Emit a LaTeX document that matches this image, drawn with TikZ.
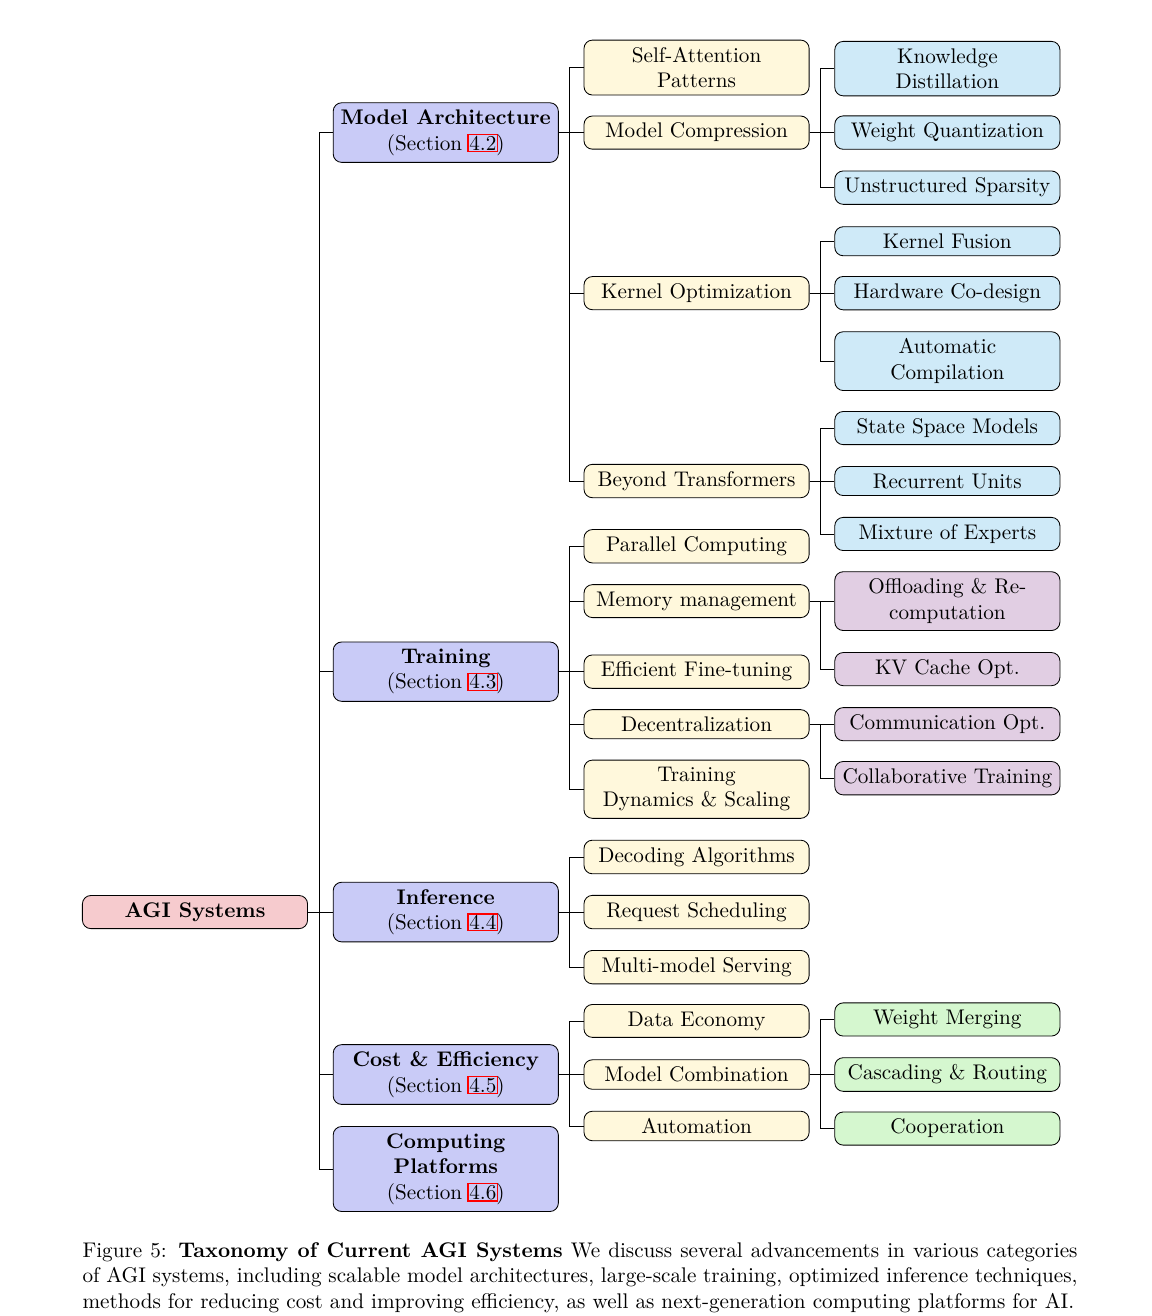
\documentclass[tikz,border=0pt]{standalone}
\usepackage{amsmath,amssymb}
\usepackage{xcolor}
\usepackage{tikz}

\definecolor{rootpink}{HTML}{F6CBCE}
\definecolor{areablue}{HTML}{C9CBF7}
\definecolor{topicyellow}{HTML}{FFF8DC}
\definecolor{leafcyan}{HTML}{CFEAF8}
\definecolor{leafviolet}{HTML}{E1CEE3}
\definecolor{leafgreen}{HTML}{D5F7CF}

% red link frame round a section number
\newcommand{\seclink}[1]{\rlap{\kern-0.9pt\textcolor{red}{\fboxsep=0.3pt\fboxrule=0.6pt\fbox{\phantom{#1}}}}#1}

\begin{document}
\begin{tikzpicture}[node distance=118.4pt,
    box/.style={rectangle, draw, rounded corners, minimum width=106.3pt, align=center},
    root/.style={box, fill=rootpink, font=\bfseries},
    area/.style={box, fill=areablue},
    topic/.style={box, fill=topicyellow},
    leaf/.style={box, fill=#1}]
    \useasboundingbox (-92.06pt,-190.7pt) rectangle (451.8pt,430.6pt);

    \node[root] (agi) {AGI Systems};

    % categories
    \node[area] (arch) [right of=agi, yshift=368pt] {\textbf{Model Architecture}\\(Section \seclink{4.2})};
    \node[area] (train) [right of=agi, yshift=113.5pt] {\textbf{Training}\\(Section \seclink{4.3})};
    \node[area] (infer) [right of=agi] {\textbf{Inference}\\(Section \seclink{4.4})};
    \node[area] (cost) [right of=agi, yshift=-76.7pt] {\textbf{Cost \& Efficiency}\\(Section \seclink{4.5})};
    \node[area] (platform) [right of=agi, yshift=-121.3pt] {\textbf{Computing}\\\textbf{Platforms}\\(Section \seclink{4.6})};

    % model architecture topics
    \node[topic] (selfattn) [right of=arch, yshift=30.7pt] {Self-Attention\\Patterns};
    \node[topic] (compress) [right of=arch] {Model Compression};
    \node[topic] (kernel) [right of=arch, yshift=-75.8pt] {Kernel Optimization};
    \node[topic] (beyond) [right of=arch, yshift=-164.5pt] {Beyond Transformers};

    % training topics
    \node[topic] (parallel) [right of=train, yshift=59.2pt] {Parallel Computing};
    \node[topic] (memory) [right of=train, yshift=33.3pt] {Memory management};
    \node[topic] (finetune) [right of=train] {Efficient Fine-tuning};
    \node[topic] (decentral) [right of=train, yshift=-24.8pt] {Decentralization};
    \node[topic] (dynamics) [right of=train, yshift=-55.5pt] {Training\\Dynamics \& Scaling};

    % inference topics
    \node[topic] (decoding) [right of=infer, yshift=26pt] {Decoding Algorithms};
    \node[topic] (sched) [right of=infer] {Request Scheduling};
    \node[topic] (multiserve) [right of=infer, yshift=-26pt] {Multi-model Serving};

    % cost topics
    \node[topic] (dataeco) [right of=cost, yshift=25.3pt] {Data Economy};
    \node[topic] (combine) [right of=cost] {Model Combination};
    \node[topic] (automation) [right of=cost, yshift=-24.3pt] {Automation};

    % leaves
    \node[leaf=leafcyan] (distill) [right of=compress, yshift=30.2pt] {Knowledge\\Distillation};
    \node[leaf=leafcyan] (quant) [right of=compress] {Weight Quantization};
    \node[leaf=leafcyan] (sparsity) [right of=compress, yshift=-26pt] {Unstructured Sparsity};
    \node[leaf=leafcyan] (fusion) [right of=kernel, yshift=24.5pt] {Kernel Fusion};
    \node[leaf=leafcyan] (codesign) [right of=kernel] {Hardware Co-design};
    \node[leaf=leafcyan] (autocomp) [right of=kernel, yshift=-32.1pt] {Automatic\\Compilation};
    \node[leaf=leafcyan] (ssm) [right of=beyond, yshift=25pt] {State Space Models};
    \node[leaf=leafcyan] (recurrent) [right of=beyond] {Recurrent Units};
    \node[leaf=leafcyan] (moe) [right of=beyond, yshift=-25pt] {Mixture of Experts};

    \node[leaf=leafviolet] (offload) [right of=memory] {Offloading \& Re-\\computation};
    \node[leaf=leafviolet] (kvcache) [right of=memory, yshift=-32.1pt] {KV Cache Opt.};
    \node[leaf=leafviolet] (commopt) [right of=decentral] {Communication Opt.};
    \node[leaf=leafviolet] (collab) [right of=decentral, yshift=-25.5pt] {Collaborative Training};

    \node[leaf=leafgreen] (merging) [right of=combine, yshift=26pt] {Weight Merging};
    \node[leaf=leafgreen] (cascade) [right of=combine] {Cascading \& Routing};
    \node[leaf=leafgreen] (cooperation) [right of=combine, yshift=-25.5pt] {Cooperation};

    % connectors
    \draw (agi.east) -- ++(5.2pt,0) |- (arch.west);
    \draw (agi.east) -- ++(5.2pt,0) |- (train.west);
    \draw (agi.east) -- ++(5.2pt,0) |- (infer.west);
    \draw (agi.east) -- ++(5.2pt,0) |- (cost.west);
    \draw (agi.east) -- ++(5.2pt,0) |- (platform.west);

    \draw (arch.east) -- ++(5.2pt,0) |- (selfattn.west);
    \draw (arch.east) -- ++(5.2pt,0) |- (compress.west);
    \draw (arch.east) -- ++(5.2pt,0) |- (kernel.west);
    \draw (arch.east) -- ++(5.2pt,0) |- (beyond.west);

    \draw (train.east) -- ++(5.2pt,0) |- (parallel.west);
    \draw (train.east) -- ++(5.2pt,0) |- (memory.west);
    \draw (train.east) -- ++(5.2pt,0) |- (finetune.west);
    \draw (train.east) -- ++(5.2pt,0) |- (decentral.west);
    \draw (train.east) -- ++(5.2pt,0) |- (dynamics.west);

    \draw (infer.east) -- ++(5.2pt,0) |- (decoding.west);
    \draw (infer.east) -- ++(5.2pt,0) |- (sched.west);
    \draw (infer.east) -- ++(5.2pt,0) |- (multiserve.west);

    \draw (cost.east) -- ++(5.2pt,0) |- (dataeco.west);
    \draw (cost.east) -- ++(5.2pt,0) |- (combine.west);
    \draw (cost.east) -- ++(5.2pt,0) |- (automation.west);

    \draw (compress.east) -- ++(5.2pt,0) |- (distill.west);
    \draw (compress.east) -- ++(5.2pt,0) |- (quant.west);
    \draw (compress.east) -- ++(5.2pt,0) |- (sparsity.west);
    \draw (kernel.east) -- ++(5.2pt,0) |- (fusion.west);
    \draw (kernel.east) -- ++(5.2pt,0) |- (codesign.west);
    \draw (kernel.east) -- ++(5.2pt,0) |- (autocomp.west);
    \draw (beyond.east) -- ++(5.2pt,0) |- (ssm.west);
    \draw (beyond.east) -- ++(5.2pt,0) |- (recurrent.west);
    \draw (beyond.east) -- ++(5.2pt,0) |- (moe.west);
    \draw (memory.east) -- ++(5.2pt,0) |- (offload.west);
    \draw (memory.east) -- ++(5.2pt,0) |- (kvcache.west);
    \draw (decentral.east) -- ++(5.2pt,0) |- (commopt.west);
    \draw (decentral.east) -- ++(5.2pt,0) |- (collab.west);
    \draw (combine.east) -- ++(5.2pt,0) |- (merging.west);
    \draw (combine.east) -- ++(5.2pt,0) |- (cascade.west);
    \draw (combine.east) -- ++(5.2pt,0) |- (cooperation.west);

    % caption
    \node[text width=469.75pt, align=justify, inner sep=0pt, anchor=base west] (caption) at (-53.3pt,-163.1pt)
        {Figure 5: \textbf{Taxonomy of Current AGI Systems} We discuss several advancements in various categories of AGI systems, including scalable model architectures, large-scale training, optimized inference techniques, methods for reducing cost and improving efficiency, as well as next-generation computing platforms for AI.};
\end{tikzpicture}
\end{document}
